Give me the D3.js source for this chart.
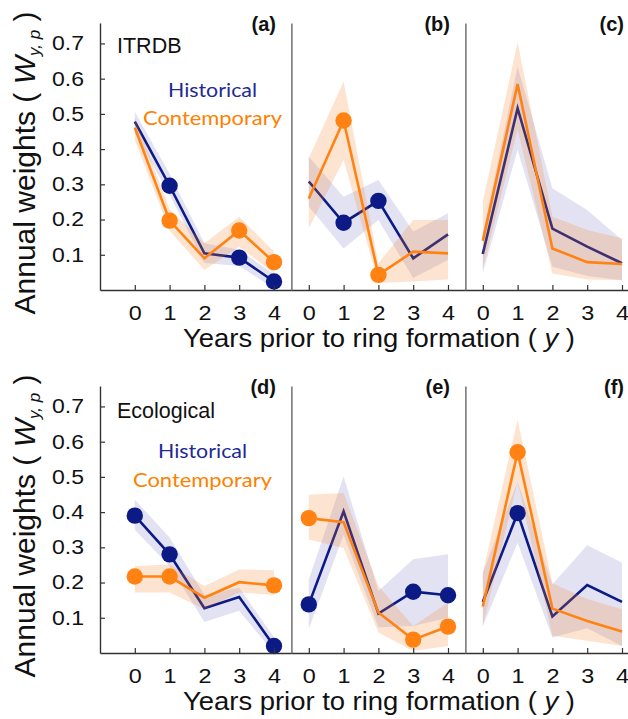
<!DOCTYPE html>
<html>
<head>
<meta charset="utf-8">
<script src="https://cdn.jsdelivr.net/npm/d3@7"></script>
<style>
  body { margin: 0; background: #fff; }
  svg { display: block; font-family: "Liberation Sans", Arial, sans-serif; }
</style>
</head>
<body>
<svg id="chart" width="628" height="719"></svg>
<script>
// years before ring formation
const years = [0, 1, 2, 3, 4];
const yTicks = [0.1, 0.2, 0.3, 0.4, 0.5, 0.6, 0.7];
const panelLabels = ['(a)', '(b)', '(c)', '(d)', '(e)', '(f)'];
const rowNames = ['ITRDB', 'Ecological'];

// ITRDB, panel (a)
const histA = [0.478, 0.296, 0.104, 0.092, 0.024];
const histALo = [0.446, 0.27, 0.077, 0.068, 0.005];
const histAHi = [0.506, 0.33, 0.133, 0.114, 0.045];
const contA = [0.461, 0.197, 0.09, 0.169, 0.079];
const contALo = [0.426, 0.168, 0.057, 0.123, 0.047];
const contAHi = [0.49, 0.23, 0.133, 0.208, 0.109];

// panel (b)
const histB = [0.308, 0.191, 0.253, 0.09, 0.158];
const histBLo = [0.237, 0.118, 0.199, 0.034, 0.085];
const histBHi = [0.378, 0.265, 0.312, 0.166, 0.218];
const contB = [0.26, 0.481, 0.043, 0.109, 0.104];
const contBLo = [0.175, 0.369, 0.02, 0.024, 0.03];
const contBHi = [0.374, 0.592, 0.076, 0.199, 0.199];

// panel (c)
const histC = [0.102, 0.516, 0.174, 0.123, 0.076];
const histCLo = [0.048, 0.398, 0.066, 0.04, 0.028];
const histCHi = [0.16, 0.634, 0.289, 0.227, 0.142];
const contC = [0.14, 0.585, 0.118, 0.079, 0.074];
const contCLo = [0.06, 0.455, 0.047, 0.03, 0.028];
const contCHi = [0.251, 0.703, 0.208, 0.17, 0.147];

// Ecological, panel (d)
const histD = [0.39, 0.28, 0.127, 0.159, 0.02];
const histDLo = [0.35, 0.247, 0.088, 0.12, 0.0];
const histDHi = [0.435, 0.328, 0.165, 0.185, 0.045];
const contD = [0.217, 0.217, 0.157, 0.201, 0.192];
const contDLo = [0.172, 0.172, 0.124, 0.172, 0.165];
const contDHi = [0.247, 0.251, 0.19, 0.237, 0.235];

// panel (e)
const histE = [0.138, 0.402, 0.112, 0.174, 0.164];
const histELo = [0.068, 0.336, 0.073, 0.077, 0.1];
const histEHi = [0.209, 0.501, 0.176, 0.266, 0.28];
const contE = [0.383, 0.371, 0.115, 0.038, 0.075];
const contELo = [0.322, 0.298, 0.058, 0.006, 0.02];
const contEHi = [0.449, 0.454, 0.19, 0.077, 0.143];

// panel (f)
const histF = [0.145, 0.397, 0.104, 0.193, 0.145];
const histFLo = [0.077, 0.313, 0.044, 0.07, 0.02];
const histFHi = [0.228, 0.487, 0.195, 0.306, 0.256];
const contF = [0.132, 0.57, 0.126, 0.091, 0.061];
const contFLo = [0.077, 0.487, 0.049, 0.035, 0.02];
const contFHi = [0.228, 0.663, 0.198, 0.153, 0.124];

// years marked with a dot
const histDots = [[1, 3, 4], [1, 2], [], [0, 1, 4], [0, 3, 4], [1]];
const contDots = [[1, 3, 4], [1, 2], [], [0, 1, 4], [0, 3, 4], [1]];

const histColor = '#0c1a85';
const contColor = '#ff8212';

const panels = [
  [histA, histALo, histAHi, contA, contALo, contAHi],
  [histB, histBLo, histBHi, contB, contBLo, contBHi],
  [histC, histCLo, histCHi, contC, contCLo, contCHi],
  [histD, histDLo, histDHi, contD, contDLo, contDHi],
  [histE, histELo, histEHi, contE, contELo, contEHi],
  [histF, histFLo, histFHi, contF, contFLo, contFHi],
].map(([h, hl, hh, c, cl, ch], i) => ({
  label: panelLabels[i],
  row: Math.floor(i / 3),
  col: i % 3,
  hist: years.map((y, j) => ({ y, v: h[j], lo: hl[j], hi: hh[j] })),
  cont: years.map((y, j) => ({ y, v: c[j], lo: cl[j], hi: ch[j] })),
  histDots: histDots[i],
  contDots: contDots[i],
}));

const svg = d3.select('#chart');

const unit = 34.8;
const left = 100;
const rowTop = [23, 386];
const rowHeight = 267;
const yMax = 0.758;

const colDomains = [[-1, 4.5], [-0.5, 4.5], [-0.5, 4.5]];
const colStart = [left, left + 5.5 * unit, left + 10.5 * unit];

function yScaleFor(row) {
  return d3.scaleLinear().domain([0, yMax]).range([rowTop[row] + rowHeight, rowTop[row]]);
}
function xScaleFor(col) {
  const dom = colDomains[col];
  return d3.scaleLinear().domain(dom).range([colStart[col], colStart[col] + (dom[1] - dom[0]) * unit]);
}

function drawSeries(g, pts, dots, x, y, color, fill, op) {
  const area = d3.area().x((d) => x(d.y)).y0((d) => y(d.lo)).y1((d) => y(d.hi));
  const line = d3.line().x((d) => x(d.y)).y((d) => y(d.v));
  g.append('path').attr('d', area(pts)).attr('fill', fill).attr('fill-opacity', op);
  g.append('path').attr('d', line(pts)).attr('fill', 'none').attr('stroke', color)
    .attr('stroke-width', 2.6).attr('stroke-linejoin', 'miter');
  g.selectAll(null)
    .data(pts.filter((d) => dots.includes(d.y)))
    .join('circle')
    .attr('cx', (d) => x(d.y))
    .attr('cy', (d) => y(d.v))
    .attr('r', 8.2)
    .attr('fill', color);
}

panels.forEach((p) => {
  const x = xScaleFor(p.col);
  const y = yScaleFor(p.row);
  const g = svg.append('g');

  drawSeries(g, p.hist, p.histDots, x, y, histColor, '#3b3fb0', 0.15);
  drawSeries(g, p.cont, p.contDots, x, y, contColor, '#f7862a', 0.22);

  // bottom axis, ticks pointing up
  const xa = svg.append('g')
    .attr('transform', `translate(0,${y.range()[0]})`)
    .call(d3.axisBottom(x).tickValues(years).tickFormat(d3.format('d'))
      .tickSizeInner(-5).tickSizeOuter(0).tickPadding(16));
  xa.select('.domain').attr('stroke', '#333').attr('stroke-width', 1.4);
  xa.selectAll('.tick line').attr('stroke', '#333').attr('stroke-width', 1.2);
  xa.selectAll('.tick text')
    .attr('font-size', 20)
    .attr('fill', '#111')
    .attr('font-family', '"Liberation Sans", Arial, sans-serif')
    .attr('textLength', 13)
    .attr('lengthAdjust', 'spacingAndGlyphs');

  // left axis (panel a/d) or divider
  const ya = svg.append('g').attr('transform', `translate(${x.range()[0]},0)`);
  if (p.col === 0) {
    ya.call(d3.axisLeft(y).tickValues(yTicks).tickSizeInner(-5).tickSizeOuter(0)
      .tickPadding(16).tickFormat(d3.format('.1f')));
    ya.select('.domain').attr('stroke', '#333').attr('stroke-width', 1.4);
    ya.selectAll('.tick line').attr('stroke', '#333').attr('stroke-width', 1.2);
    ya.selectAll('.tick text')
      .attr('font-size', 20)
      .attr('fill', '#111')
      .attr('font-family', '"Liberation Sans", Arial, sans-serif')
      .attr('textLength', 32)
      .attr('lengthAdjust', 'spacingAndGlyphs');
  } else {
    ya.call(d3.axisLeft(y).tickValues([]).tickSizeOuter(0));
    ya.select('.domain').attr('stroke', '#666').attr('stroke-width', 1.4);
  }

  svg.append('text')
    .attr('x', x(4) + 2)
    .attr('y', y.range()[1] + 8)
    .attr('text-anchor', 'end')
    .attr('font-size', 20)
    .attr('font-weight', 'bold')
    .attr('fill', '#111')
    .text(p.label);
});

// row annotations
const legendX = [[168, 143], [158, 133]];
rowNames.forEach((name, r) => {
  const top = rowTop[r];
  svg.append('text')
    .attr('x', 117)
    .attr('y', top + 30 + r * 2)
    .attr('font-size', 21.5)
    .attr('fill', '#111')
    .text(name);
  svg.append('text')
    .attr('x', legendX[r][0])
    .attr('y', top + 74 - r * 2)
    .attr('font-family', 'Lato, "Open Sans", sans-serif')
    .attr('font-size', 20)
    .attr('fill', '#1f2a96')
    .attr('textLength', 89)
    .attr('lengthAdjust', 'spacingAndGlyphs')
    .text('Historical');
  svg.append('text')
    .attr('x', legendX[r][1])
    .attr('y', top + 102 - r * 1)
    .attr('font-family', 'Lato, "Open Sans", sans-serif')
    .attr('font-size', 20)
    .attr('fill', '#ff7f00')
    .attr('textLength', 139)
    .attr('lengthAdjust', 'spacingAndGlyphs')
    .text('Contemporary');

  // x title
  const xt = svg.append('text')
    .attr('x', 183)
    .attr('y', top + rowHeight + 57)
    .attr('font-size', 25)
    .attr('fill', '#111')
    .attr('textLength', 392)
    .attr('lengthAdjust', 'spacingAndGlyphs');
  xt.append('tspan').text('Years prior to ring formation ( ');
  xt.append('tspan').attr('font-style', 'italic').text('y');
  xt.append('tspan').text(' )');

  // y title
  const yt = svg.append('text')
    .attr('transform', `translate(35,${top + 140}) rotate(-90)`)
    .attr('text-anchor', 'middle')
    .attr('font-size', 30)
    .attr('fill', '#111');
  yt.append('tspan').text('Annual weights ( ');
  yt.append('tspan').attr('font-style', 'italic').text('W');
  yt.append('tspan').attr('font-style', 'italic').attr('font-size', 17).attr('dy', 5).text('y, p');
  yt.append('tspan').attr('dy', -5).text(' )');
});
</script>
</body>
</html>
